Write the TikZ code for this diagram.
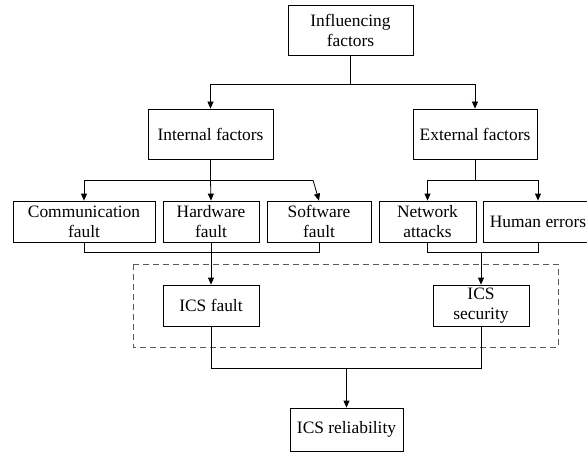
\documentclass[tikz,border=0pt]{standalone}
\usepackage{fontspec}
\setmainfont{Liberation Serif}
\usetikzlibrary{arrows.meta}
\begin{document}
\begin{tikzpicture}[x=1pt,y=-1pt,
  box/.style={draw=black,line width=0.8pt,inner sep=0pt,align=center,
    font=\fontsize{17.4}{20}\selectfont,minimum height=41pt},
  conn/.style={draw=black,line width=0.8pt},
  arr/.style={conn,-{Triangle[length=7pt,width=6pt]}},
  dashbox/.style={draw=black!65,line width=0.9pt,dash pattern=on 6pt off 4pt}]
\useasboundingbox (0,0) rectangle (587,452);
\node[box,minimum width=125pt,minimum height=50pt] (inf) at (350.5,30) {Influencing\\factors};
\node[box,minimum width=125pt,minimum height=50pt] (int) at (210.5,134) {Internal factors};
\node[box,minimum width=124pt,minimum height=50pt] (ext) at (475,134) {External factors};
\node[box,minimum width=142pt] (comm) at (84,221.5) {Communication\\fault};
\node[box,minimum width=96pt] (hw) at (211,221.5) {Hardware\\fault};
\node[box,minimum width=104pt] (sw) at (319,221.5) {Software\\fault};
\node[box,minimum width=97pt] (net) at (427.5,221.5) {Network\\attacks};
\node[box,minimum width=110pt] (hum) at (538,221.5) {Human errors};
\node[box,minimum width=96pt] (flt) at (211,305.5) {ICS fault};
\node[box,minimum width=96pt] (sec) at (481,305.5) {ICS\\security};
\node[box,minimum width=113pt,minimum height=43pt] (rel) at (346.5,429.5) {ICS reliability};
\draw[dashbox] (133,264) rectangle (558,347);
% top level
\coordinate (j1) at (350.5,84);
\draw[conn] (inf.south) -- (j1);
\draw[arr] (j1) -| (int.north);
\draw[arr] (j1) -| (ext.north);
% internal
\coordinate (j2) at (210.5,180);
\coordinate (j2r) at (313,180);
\draw[conn] (int.south) -- (j2);
\draw[arr] (j2) -| (comm.north);
\draw[arr] (j2) -- (hw.north);
\draw[conn] (j2) -- (j2r);
\draw[arr] (j2r) -- (sw.north);
% external
\coordinate (j3) at (475,180);
\draw[conn] (ext.south) -- (j3);
\draw[arr] (j3) -| (net.north);
\draw[arr] (j3) -| (hum.north);
% merges
\draw[conn] (comm.south) -- (84,252) -| (sw.south);
\draw[arr] (hw.south) -- (flt.north);
\draw[conn] (net.south) -- (427.5,252) -| (hum.south);
\coordinate (j4) at (481,252);
\draw[arr] (j4) -- (sec.north);
\draw[conn] (flt.south) -- (211,368) -| (sec.south);
\coordinate (j5) at (346.5,368);
\draw[arr] (j5) -- (rel.north);
\end{tikzpicture}
\end{document}
